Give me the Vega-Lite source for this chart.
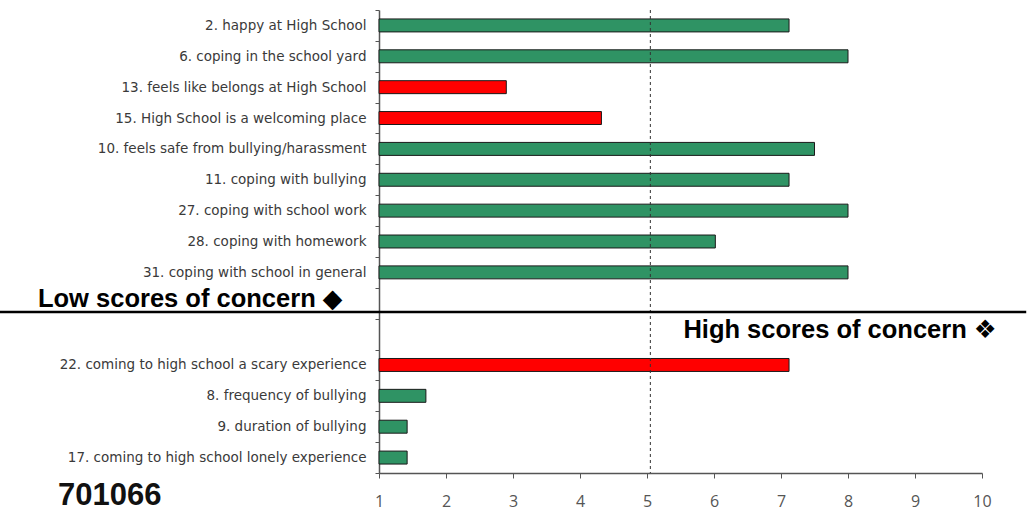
{
  "$schema": "https://vega.github.io/schema/vega-lite/v6.json",
  "width": 603,
  "height": 463,
  "autosize": {"type": "none"},
  "padding": {"left": 379, "top": 10, "right": 45, "bottom": 39},
  "background": "white",
  "config": {"view": {"stroke": null}},
  "datasets": {
    "bars": [
      {"item": "2. happy at  High School", "score": 7.12, "concern": "ok"},
      {"item": "6. coping in the school yard", "score": 8.0, "concern": "ok"},
      {"item": "13. feels like belongs at High School", "score": 2.9, "concern": "concern"},
      {"item": "15. High School is a welcoming place", "score": 4.32, "concern": "concern"},
      {"item": "10. feels safe from bullying/harassment", "score": 7.5, "concern": "ok"},
      {"item": "11. coping with bullying", "score": 7.12, "concern": "ok"},
      {"item": "27. coping with school work", "score": 8.0, "concern": "ok"},
      {"item": "28. coping with homework", "score": 6.02, "concern": "ok"},
      {"item": "31. coping with school in general", "score": 8.0, "concern": "ok"},
      {"item": "22. coming to high school a scary experience", "score": 7.12, "concern": "concern"},
      {"item": "8. frequency of bullying", "score": 1.7, "concern": "ok"},
      {"item": "9.  duration of bullying", "score": 1.42, "concern": "ok"},
      {"item": "17. coming to high school lonely experience", "score": 1.42, "concern": "ok"}
    ]
  },
  "layer": [
    {
      "data": {"name": "bars"},
      "mark": {"type": "bar", "height": {"band": 0.42}, "stroke": "#1a1a1a", "strokeWidth": 1},
      "encoding": {
        "y": {
          "field": "item", "type": "nominal", "sort": null,
          "scale": {"domain": ["2. happy at  High School", "6. coping in the school yard", "13. feels like belongs at High School", "15. High School is a welcoming place", "10. feels safe from bullying/harassment", "11. coping with bullying", "27. coping with school work", "28. coping with homework", "31. coping with school in general", "blank1", "blank2", "22. coming to high school a scary experience", "8. frequency of bullying", "9.  duration of bullying", "17. coming to high school lonely experience"], "paddingInner": 0, "paddingOuter": 0},
          "axis": {"title": null, "tickBand": "extent", "labelFont": "DejaVu Sans", "labelFontSize": 13.5, "labelColor": "#3a3a3a", "tickSize": 4, "tickColor": "#555", "domainColor": "#555", "domainWidth": 1.5, "labelPadding": 9, "labelLimit": 400, "labelExpr": "indexof(datum.label,'blank')==0 ? '' : datum.label"}
        },
        "x": {
          "field": "score", "type": "quantitative",
          "scale": {"domain": [1, 10], "nice": false, "zero": false},
          "axis": {"title": null, "values": [1, 2, 3, 4, 5, 6, 7, 8, 9, 10], "format": "d", "grid": false, "labelFlush": false, "labelFont": "Open Sans", "labelFontSize": 16, "labelColor": "#555", "tickSize": 5, "tickColor": "#555", "domainColor": "#555", "domainWidth": 1.5, "labelPadding": 15}
        },
        "x2": {"datum": 1},
        "color": {"field": "concern", "type": "nominal", "scale": {"domain": ["ok", "concern"], "range": ["#2f9364", "#ff0000"]}, "legend": null}
      }
    },
    {
      "data": {"values": [{"line": "midpoint"}]},
      "mark": {"type": "rule", "strokeDash": [3, 3], "color": "#333", "strokeWidth": 1},
      "encoding": {"x": {"datum": 5.05, "type": "quantitative", "scale": {"domain": [1, 10], "nice": false, "zero": false}}}
    },
    {
      "data": {"values": [{"line": "separator"}]},
      "mark": {"type": "rule", "color": "#000", "strokeWidth": 2.5},
      "encoding": {
        "x": {"datum": -4.66, "type": "quantitative", "scale": {"domain": [1, 10], "nice": false, "zero": false}},
        "x2": {"datum": 10.66},
        "y": {"datum": "blank1", "type": "nominal", "bandPosition": 0.78, "scale": {"domain": ["2. happy at  High School", "6. coping in the school yard", "13. feels like belongs at High School", "15. High School is a welcoming place", "10. feels safe from bullying/harassment", "11. coping with bullying", "27. coping with school work", "28. coping with homework", "31. coping with school in general", "blank1", "blank2", "22. coming to high school a scary experience", "8. frequency of bullying", "9.  duration of bullying", "17. coming to high school lonely experience"], "paddingInner": 0, "paddingOuter": 0}}
      }
    },
    {
      "data": {"values": [{"note": "Low scores of concern ◆"}]},
      "mark": {"type": "text", "font": "Liberation Sans, DejaVu Sans", "fontWeight": "bold", "fontSize": 25.5, "color": "#000", "align": "left", "baseline": "alphabetic"},
      "encoding": {
        "text": {"field": "note"},
        "x": {"datum": -4.09, "type": "quantitative", "scale": {"domain": [1, 10], "nice": false, "zero": false}},
        "y": {"datum": "blank1", "type": "nominal", "bandPosition": 0.62, "scale": {"domain": ["2. happy at  High School", "6. coping in the school yard", "13. feels like belongs at High School", "15. High School is a welcoming place", "10. feels safe from bullying/harassment", "11. coping with bullying", "27. coping with school work", "28. coping with homework", "31. coping with school in general", "blank1", "blank2", "22. coming to high school a scary experience", "8. frequency of bullying", "9.  duration of bullying", "17. coming to high school lonely experience"], "paddingInner": 0, "paddingOuter": 0}}
      }
    },
    {
      "data": {"values": [{"note": "High scores of concern ❖"}]},
      "mark": {"type": "text", "font": "Liberation Sans, DejaVu Sans", "fontWeight": "bold", "fontSize": 25.5, "color": "#000", "align": "right", "baseline": "alphabetic"},
      "encoding": {
        "text": {"field": "note"},
        "x": {"datum": 10.22, "type": "quantitative", "scale": {"domain": [1, 10], "nice": false, "zero": false}},
        "y": {"datum": "blank2", "type": "nominal", "bandPosition": 0.625, "scale": {"domain": ["2. happy at  High School", "6. coping in the school yard", "13. feels like belongs at High School", "15. High School is a welcoming place", "10. feels safe from bullying/harassment", "11. coping with bullying", "27. coping with school work", "28. coping with homework", "31. coping with school in general", "blank1", "blank2", "22. coming to high school a scary experience", "8. frequency of bullying", "9.  duration of bullying", "17. coming to high school lonely experience"], "paddingInner": 0, "paddingOuter": 0}}
      }
    },
    {
      "data": {"values": [{"note": "701066"}]},
      "mark": {"type": "text", "font": "Liberation Sans", "fontWeight": "bold", "fontSize": 31, "color": "#111", "align": "left", "baseline": "alphabetic"},
      "encoding": {
        "text": {"field": "note"},
        "x": {"datum": -3.79, "type": "quantitative", "scale": {"domain": [1, 10], "nice": false, "zero": false}},
        "y": {"datum": "17. coming to high school lonely experience", "type": "nominal", "bandPosition": 2.05, "scale": {"domain": ["2. happy at  High School", "6. coping in the school yard", "13. feels like belongs at High School", "15. High School is a welcoming place", "10. feels safe from bullying/harassment", "11. coping with bullying", "27. coping with school work", "28. coping with homework", "31. coping with school in general", "blank1", "blank2", "22. coming to high school a scary experience", "8. frequency of bullying", "9.  duration of bullying", "17. coming to high school lonely experience"], "paddingInner": 0, "paddingOuter": 0}}
      }
    }
  ]
}
